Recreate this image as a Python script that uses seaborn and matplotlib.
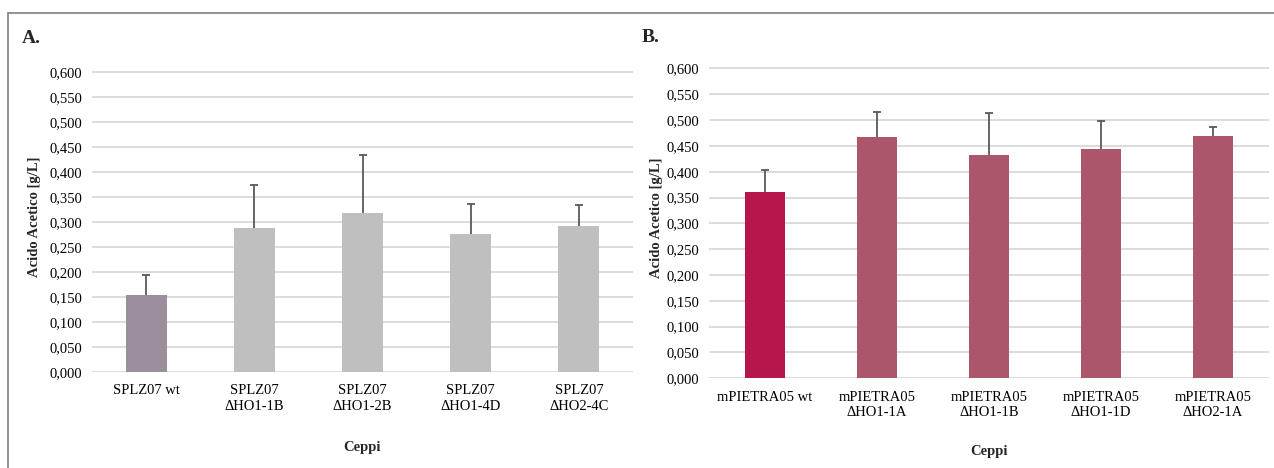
import matplotlib
matplotlib.use("Agg")
import matplotlib.pyplot as plt
from matplotlib.lines import Line2D
from matplotlib.ticker import FuncFormatter
import seaborn as sns
import pandas as pd

# ---- data ----
cats_a = ["SPLZ07 wt", "SPLZ07\nΔHO1-1B", "SPLZ07\nΔHO1-2B", "SPLZ07\nΔHO1-4D", "SPLZ07\nΔHO2-4C"]
vals_a = [0.154, 0.289, 0.317, 0.275, 0.293]
err_a = [0.040, 0.085, 0.116, 0.060, 0.042]

cats_b = ["mPIETRA05 wt", "mPIETRA05\nΔHO1-1A", "mPIETRA05\nΔHO1-1B", "mPIETRA05\nΔHO1-1D", "mPIETRA05\nΔHO2-1A"]
vals_b = [0.360, 0.467, 0.433, 0.443, 0.469]
err_b = [0.043, 0.049, 0.081, 0.055, 0.018]

colors_a = ["#9a8f9b", "#bfbfbf", "#bfbfbf", "#bfbfbf", "#bfbfbf"]
colors_b = ["#b5164b", "#ac566b", "#ac566b", "#ac566b", "#ac566b"]

ylabel = "Acido Acetico [g/L]"
xlabel = "Ceppi"

sns.set_style("white")
plt.rcParams["font.family"] = ["Liberation Serif", "DejaVu Serif"]

W, H = 1274, 468
fig = plt.figure(figsize=(W / 100, H / 100), dpi=100)

def px_axes(x0, x1, y0, ytop):
    return [x0 / W, 1 - y0 / H, (x1 - x0) / W, (y0 - ytop) / H]

fmt = FuncFormatter(lambda v, p: f"{v:.3f}".replace(".", ","))

def panel(rect, cats, vals, errs, colors, width, xl_y, yl_x):
    ax = fig.add_axes(rect)
    df = pd.DataFrame({"cat": cats, "val": vals})
    sns.barplot(data=df, x="cat", y="val", hue="cat", palette=colors, legend=False,
                width=width, linewidth=0, errorbar=None, saturation=1, ax=ax, zorder=3)
    cont = ax.errorbar(range(len(cats)), vals, yerr=[[0] * len(errs), errs], fmt="none",
                       ecolor="#595959", elinewidth=1.3, capsize=3, capthick=1.3, zorder=4)
    # keep only the upper caps (Excel "plus" error bars)
    for cl in cont[1]:
        yd = list(cl.get_ydata())
        if all(abs(a - b) < 1e-9 for a, b in zip(yd, vals)):
            cl.set_visible(False)
    ax.set_ylim(0, 0.62)
    ax.set_xlim(-0.5, len(cats) - 0.5)
    ax.set_yticks([i * 0.05 for i in range(13)])
    ax.yaxis.set_major_formatter(fmt)
    ax.grid(axis="y", color="#d9d9d9", linewidth=1.3, zorder=0)
    ax.set_axisbelow(True)
    for s in ax.spines.values():
        s.set_visible(False)
    ax.tick_params(axis="both", length=0, labelsize=10.5, colors="#000000")
    ax.tick_params(axis="y", pad=7)
    ax.tick_params(axis="x", pad=9)
    ax.set_xlabel(xlabel, fontsize=10.5, fontweight="bold")
    ax.set_ylabel(ylabel, fontsize=10.5, fontweight="bold")
    ax.xaxis.set_label_coords(0.5, xl_y)
    ax.yaxis.set_label_coords(yl_x, 0.5)
    return ax

# panel A: x 92..633 px, zero at y=372, 500 px per unit
panel(px_axes(92, 633, 372, 372 - 0.62 * 500), cats_a, vals_a, err_a, colors_a, 0.38,
      (372 - 441) / 310, (41 - 92) / 541)
# panel B: x 709..1269 px, zero at y=378.3, 516.5 px per unit
panel(px_axes(709, 1269, 378.3, 378.3 - 0.62 * 516.5), cats_b, vals_b, err_b, colors_b, 0.35,
      (378.3 - 445) / 320.2, (663 - 709) / 560)

fig.text(22 / W, 1 - 43 / H, "A.", fontsize=14, fontweight="bold", va="baseline", ha="left")
fig.text(642 / W, 1 - 42 / H, "B.", fontsize=14, fontweight="bold", va="baseline", ha="left")

# outer frame (top and left)
ytop = 1 - 13.3 / H
xl = 7.5 / W
fig.add_artist(Line2D([xl, 1], [ytop, ytop], transform=fig.transFigure, color="#7f7f7f", lw=1.2))
fig.add_artist(Line2D([xl, xl], [0, ytop], transform=fig.transFigure, color="#7f7f7f", lw=1.2))

fig.savefig("out.png", dpi=100, facecolor="white")
